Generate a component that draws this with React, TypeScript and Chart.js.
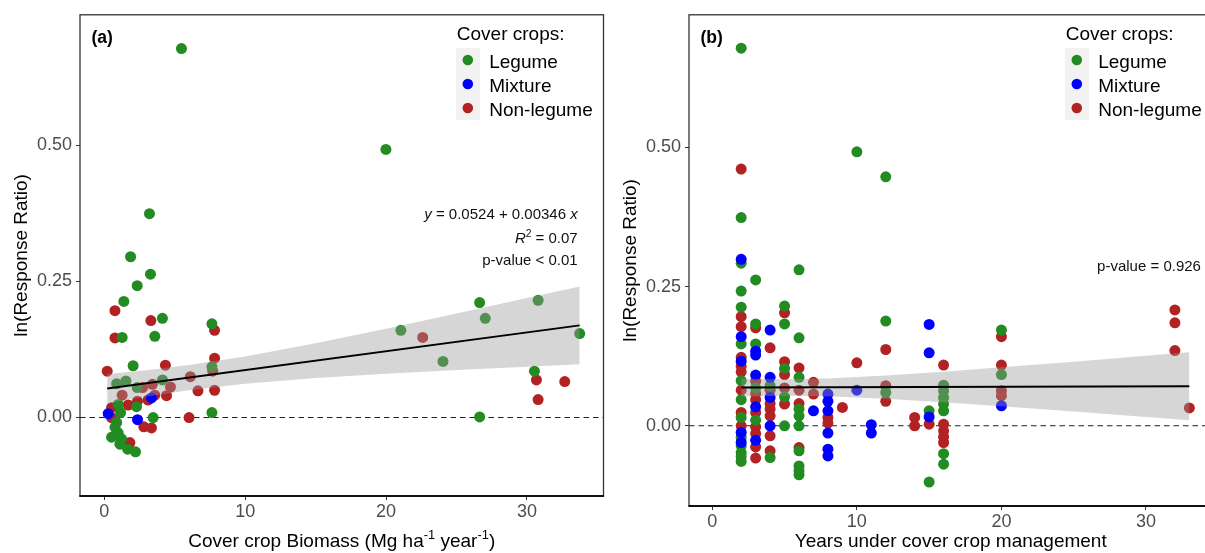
import { useEffect, useRef } from 'react';
import { Chart, registerables } from 'chart.js';

Chart.register(...registerables);

const FONT = "'Liberation Sans', Arial, Helvetica, sans-serif";

// ---------- Panel (a): cover crop biomass ----------
const A_LEGUME_X = [5.48, 3.21, 1.87, 3.28, 2.34, 1.39, 4.13, 1.27, 3.59, 7.64, 2.05, 7.64, 0.88, 1.54, 4.13, 2.34, 2.29, 0.99, 1.16, 3.47, 7.64, 0.88, 0.76, 0.99, 0.52, 1.23, 1.11, 1.66, 2.22, 19.99, 21.05, 24.04, 26.64, 27.04, 26.64, 30.79, 30.53, 33.74];
const A_LEGUME_Y = [0.677, 0.374, 0.295, 0.263, 0.242, 0.213, 0.182, 0.147, 0.149, 0.172, 0.095, 0.093, 0.062, 0.067, 0.069, 0.055, 0.020, 0.024, 0.009, 0.0, 0.009, -0.009, -0.018, -0.028, -0.036, -0.039, -0.049, -0.058, -0.063, 0.492, 0.160, 0.103, 0.211, 0.182, 0.001, 0.215, 0.085, 0.154];
const A_MIXTURE_X = [3.35, 0.28, 2.36];
const A_MIXTURE_Y = [0.036, 0.007, -0.004];
const A_NONLEGUME_X = [0.76, 3.31, 0.76, 7.83, 7.83, 0.21, 4.34, 7.7, 6.11, 2.72, 3.42, 4.7, 4.42, 6.65, 7.83, 1.27, 3.11, 3.59, 2.36, 0.52, 1.7, 0.52, 6.02, 2.81, 3.35, 1.82, 1.7, 22.6, 30.67, 30.79, 32.68];
const A_NONLEGUME_Y = [0.196, 0.178, 0.146, 0.160, 0.109, 0.085, 0.096, 0.085, 0.075, 0.055, 0.061, 0.056, 0.040, 0.049, 0.050, 0.041, 0.032, 0.041, 0.030, 0.018, 0.023, 0.0, 0.0, -0.017, -0.019, -0.046, -0.055, 0.147, 0.069, 0.033, 0.066];
const A_FIT_X = [0.21, 33.74];
const A_FIT_Y = [0.0531, 0.1691];
const A_BAND_X = [0.21, 3, 6, 10, 15, 20, 25, 30, 33.74];
const A_BAND_LOW = [0.026, 0.0387, 0.0502, 0.062, 0.0725, 0.0804, 0.0871, 0.0932, 0.0976];
const A_BAND_HIGH = [0.080, 0.0869, 0.0962, 0.112, 0.1361, 0.1628, 0.1907, 0.2192, 0.2406];

// ---------- Panel (b): years under cover crop ----------
const B_LEGUME_X = [2, 2, 2, 2, 2, 2, 2, 2, 2, 2, 2, 2, 2, 2, 3, 3, 3, 3, 3, 4, 4, 5, 5, 5, 5, 5, 6, 6, 6, 6, 6, 6, 6, 6, 6, 6, 10, 12, 12, 12, 15, 15, 16, 16, 16, 16, 16, 16, 16, 20, 20];
const B_LEGUME_Y = [0.678, 0.374, 0.292, 0.242, 0.213, 0.147, 0.081, 0.047, 0.015, -0.021, -0.036, -0.048, -0.055, -0.064, 0.262, 0.183, 0.147, 0.068, 0.010, 0.072, -0.057, 0.215, 0.183, 0.103, 0.052, 0.0, 0.280, 0.158, 0.087, 0.030, 0.018, 0.0, -0.045, -0.072, -0.081, -0.088, 0.492, 0.447, 0.188, 0.060, 0.027, -0.101, 0.073, 0.063, 0.051, 0.039, 0.027, -0.050, -0.069, 0.172, 0.092];
const B_MIXTURE_X = [2, 2, 2, 2, 2, 3, 3, 3, 3, 3, 4, 4, 4, 4, 7, 8, 8, 8, 8, 8, 8, 10, 11, 11, 15, 15, 15, 20];
const B_MIXTURE_Y = [0.299, 0.160, 0.116, -0.012, -0.030, 0.134, 0.127, 0.091, 0.034, -0.026, 0.172, 0.087, 0.051, 0.0, 0.027, 0.057, 0.044, 0.027, -0.013, -0.042, -0.054, 0.064, 0.002, -0.013, 0.182, 0.131, 0.016, 0.036];
const B_NONLEGUME_X = [2, 2, 2, 2, 2, 2, 2, 2, 2, 3, 3, 3, 3, 3, 3, 3, 3, 3, 4, 4, 4, 4, 4, 4, 4, 5, 5, 5, 5, 5, 6, 6, 6, 6, 7, 7, 8, 8, 9, 10, 12, 12, 12, 14, 14, 15, 16, 16, 16, 16, 16, 20, 20, 20, 20, 32, 32, 32, 33];
const B_NONLEGUME_Y = [0.461, 0.196, 0.178, 0.123, 0.107, 0.097, 0.064, 0.024, 0.0, 0.176, 0.080, 0.058, 0.047, 0.024, -0.002, -0.014, -0.038, -0.058, 0.140, 0.064, 0.040, 0.030, 0.018, -0.018, -0.045, 0.203, 0.115, 0.092, 0.068, 0.039, 0.104, 0.064, 0.040, -0.039, 0.078, 0.057, 0.015, 0.005, 0.033, 0.113, 0.137, 0.072, 0.044, 0.015, 0.0, 0.003, 0.109, 0.003, -0.009, -0.020, -0.030, 0.160, 0.109, 0.063, 0.054, 0.208, 0.185, 0.135, 0.032];
const B_FIT_X = [2, 33];
const B_FIT_Y = [0.0686, 0.0710];
const B_BAND_X = [2, 5, 8, 12, 16, 20, 25, 30, 33];
const B_BAND_LOW = [0.0526, 0.0541, 0.0531, 0.0485, 0.0422, 0.035, 0.0256, 0.0159, 0.010];
const B_BAND_HIGH = [0.0846, 0.0835, 0.0851, 0.0903, 0.0972, 0.105, 0.1152, 0.1257, 0.132];

// ---------- shared labels / ticks ----------
const X_TICKS = [0, 10, 20, 30];
const Y_TICKS = [0, 0.25, 0.5];
const LEGEND_TITLE = 'Cover crops:';
const GROUPS = ['Legume', 'Mixture', 'Non-legume'];
const Y_TITLE = 'ln(Response Ratio)';
const A_X_TITLE = ['Cover crop Biomass (Mg ha', '-1', ' year', '-1', ')'];
const B_X_TITLE = 'Years under cover crop management';
const A_NOTE_POS_X = 33.6;
const A_NOTE_POS_Y = [0.364, 0.3195, 0.279];
const B_NOTE_POS_X = 33.8;
const B_NOTE_POS_Y = [0.278];

const COLORS = ['#228B22', '#0000FF', '#B22222'];

type Part = { t: string; italic?: boolean; sup?: boolean };

function pts(xs: number[], ys: number[]) {
  return xs.map((x, i) => ({ x, y: ys[i] }));
}

function partFont(p: Part, size: number) {
  const s = p.sup ? size * 0.68 : size;
  return `${p.italic ? 'italic ' : ''}${s}px ${FONT}`;
}

function drawParts(ctx: CanvasRenderingContext2D, parts: Part[], x: number, y: number, size: number, align: 'left' | 'right' | 'center') {
  let w = 0;
  for (const p of parts) {
    ctx.font = partFont(p, size);
    w += ctx.measureText(p.t).width;
  }
  let cx = align === 'right' ? x - w : align === 'center' ? x - w / 2 : x;
  ctx.textAlign = 'left';
  ctx.textBaseline = 'alphabetic';
  for (const p of parts) {
    ctx.font = partFont(p, size);
    ctx.fillText(p.t, cx, p.sup ? y - size * 0.42 : y);
    cx += ctx.measureText(p.t).width;
  }
}

function buildConfig(p: any) {
  const datasets: any[] = [
    { type: 'line', data: pts(p.fitX, p.fitY), borderColor: '#000', borderWidth: 2, pointRadius: 0, fill: false, order: 1 },
    { type: 'line', data: pts(p.bandX, p.bandHigh), borderColor: 'rgba(0,0,0,0)', borderWidth: 0, pointRadius: 0, backgroundColor: 'rgba(153,153,153,0.4)', fill: '+1', order: 3 },
    { type: 'line', data: pts(p.bandX, p.bandLow), borderColor: 'rgba(0,0,0,0)', borderWidth: 0, pointRadius: 0, fill: false, order: 4 },
  ];
  const groupOrder = [8, 7, 9];
  p.series.forEach((s: any, i: number) => {
    datasets.push({
      type: 'scatter',
      label: GROUPS[i],
      data: pts(s[0], s[1]),
      backgroundColor: COLORS[i],
      borderWidth: 0,
      pointRadius: 5.5,
      pointHoverRadius: 5.5,
      order: groupOrder[i],
    });
  });

  const decor = {
    id: 'decor',
    beforeDatasetsDraw(chart: any) {
      const { ctx, chartArea: a, scales } = chart;
      const y0 = scales.y.getPixelForValue(0);
      ctx.save();
      ctx.strokeStyle = '#222';
      ctx.lineWidth = 1.1;
      ctx.setLineDash([5.5, 4]);
      ctx.beginPath();
      ctx.moveTo(a.left, y0);
      ctx.lineTo(a.right, y0);
      ctx.stroke();
      ctx.restore();
    },
    afterDraw(chart: any) {
      const { ctx, chartArea: a, scales } = chart;
      ctx.save();
      // panel border
      ctx.strokeStyle = '#333';
      ctx.lineWidth = 1.3;
      ctx.strokeRect(a.left, a.top, a.right - a.left, a.bottom - a.top);
      ctx.strokeStyle = '#111';
      ctx.lineWidth = 2;
      ctx.beginPath();
      ctx.moveTo(a.left - 0.6, a.bottom);
      ctx.lineTo(a.right + 0.6, a.bottom);
      ctx.stroke();

      // panel label
      ctx.fillStyle = '#000';
      ctx.font = `bold 17.5px ${FONT}`;
      ctx.textAlign = 'left';
      ctx.textBaseline = 'alphabetic';
      ctx.fillText(p.label, a.left + 11.5, a.top + 28);

      // legend
      const R = a.right;
      ctx.font = `19px ${FONT}`;
      ctx.fillStyle = '#000';
      ctx.fillText(LEGEND_TITLE, R - 146.7, 39.5);
      ctx.fillStyle = '#F2F2F2';
      ctx.fillRect(R - 147.5, 48, 24, 72);
      GROUPS.forEach((g, i) => {
        const cy = 60 + i * 24;
        ctx.fillStyle = COLORS[i];
        ctx.beginPath();
        ctx.arc(R - 135.7, cy, 5.3, 0, Math.PI * 2);
        ctx.fill();
        ctx.fillStyle = '#000';
        ctx.font = `19px ${FONT}`;
        ctx.fillText(g, R - 114.3, cy + 7.8);
      });

      // annotations
      ctx.fillStyle = '#111';
      const nx = scales.x.getPixelForValue(p.noteX);
      p.notes.forEach((parts: Part[], i: number) => {
        drawParts(ctx, parts, nx, scales.y.getPixelForValue(p.noteY[i]), 15, 'right');
      });

      // custom x title with superscripts
      if (p.xTitleParts) {
        ctx.fillStyle = '#000';
        drawParts(ctx, p.xTitleParts, (a.left + a.right) / 2, 547, 19, 'center');
      }
      ctx.restore();
    },
  };

  return {
    type: 'scatter',
    data: { datasets },
    options: {
      animation: false,
      responsive: false,
      maintainAspectRatio: false,
      devicePixelRatio: 1,
      events: [],
      layout: { padding: { top: 12, right: p.padRight, left: 0, bottom: 0 } },
      plugins: { legend: { display: false }, tooltip: { enabled: false } },
      scales: {
        x: {
          type: 'linear',
          min: p.xMin,
          max: p.xMax,
          afterBuildTicks: (s: any) => { s.ticks = X_TICKS.map((v) => ({ value: v })); },
          afterFit: (s: any) => { s.height = p.xAxisHeight; },
          grid: { display: true, drawOnChartArea: false, drawTicks: true, tickLength: 4, tickColor: '#333', tickWidth: 1 },
          border: { display: false },
          ticks: { color: '#4D4D4D', font: { family: FONT, size: 18 }, padding: 1, maxRotation: 0, autoSkip: false, callback: (v: any) => String(v) },
          title: p.xTitleText
            ? { display: true, text: p.xTitleText, color: '#000', font: { family: FONT, size: 19 }, padding: { top: 0, bottom: 0 } }
            : { display: false },
        },
        y: {
          type: 'linear',
          min: p.yMin,
          max: p.yMax,
          afterBuildTicks: (s: any) => { s.ticks = Y_TICKS.map((v) => ({ value: v })); },
          afterFit: (s: any) => { s.width = 80; },
          grid: { display: true, drawOnChartArea: false, drawTicks: true, tickLength: 4, tickColor: '#333', tickWidth: 1 },
          border: { display: false },
          ticks: { color: '#4D4D4D', font: { family: FONT, size: 18 }, padding: 4, autoSkip: false, callback: (v: any) => Number(v).toFixed(2) },
          title: { display: true, text: Y_TITLE, color: '#000', font: { family: FONT, size: 19 }, padding: { top: 10.5, bottom: 0 } },
        },
      },
    },
    plugins: [decor],
  } as any;
}

const PANEL_A = {
  label: '(a)',
  xMin: -1.72, xMax: 35.43, yMin: -0.144, yMax: 0.739,
  xAxisHeight: 57, padRight: 4,
  series: [[A_LEGUME_X, A_LEGUME_Y], [A_MIXTURE_X, A_MIXTURE_Y], [A_NONLEGUME_X, A_NONLEGUME_Y]],
  fitX: A_FIT_X, fitY: A_FIT_Y,
  bandX: A_BAND_X, bandLow: A_BAND_LOW, bandHigh: A_BAND_HIGH,
  xTitleText: null,
  xTitleParts: [
    { t: A_X_TITLE[0] }, { t: A_X_TITLE[1], sup: true }, { t: A_X_TITLE[2] }, { t: A_X_TITLE[3], sup: true }, { t: A_X_TITLE[4] },
  ],
  noteX: A_NOTE_POS_X,
  noteY: A_NOTE_POS_Y,
  notes: [
    [{ t: 'y', italic: true }, { t: ' = 0.0524 + 0.00346 ' }, { t: 'x', italic: true }],
    [{ t: 'R', italic: true }, { t: '2', sup: true }, { t: ' = 0.07' }],
    [{ t: 'p-value < 0.01' }],
  ],
};

const PANEL_B = {
  label: '(b)',
  xMin: -1.61, xMax: 34.6, yMin: -0.144, yMax: 0.738,
  xAxisHeight: 47, padRight: 16.5,
  series: [[B_LEGUME_X, B_LEGUME_Y], [B_MIXTURE_X, B_MIXTURE_Y], [B_NONLEGUME_X, B_NONLEGUME_Y]],
  fitX: B_FIT_X, fitY: B_FIT_Y,
  bandX: B_BAND_X, bandLow: B_BAND_LOW, bandHigh: B_BAND_HIGH,
  xTitleText: B_X_TITLE,
  xTitleParts: null,
  noteX: B_NOTE_POS_X,
  noteY: B_NOTE_POS_Y,
  notes: [[{ t: 'p-value = 0.926' }]],
};

export default function App() {
  const refA = useRef<HTMLCanvasElement>(null);
  const refB = useRef<HTMLCanvasElement>(null);
  useEffect(() => {
    const ca = new Chart(refA.current as HTMLCanvasElement, buildConfig(PANEL_A));
    const cb = new Chart(refB.current as HTMLCanvasElement, buildConfig(PANEL_B));
    return () => {
      ca.destroy();
      cb.destroy();
    };
  }, []);
  return (
    <div style={{ position: 'absolute', left: 0, top: 0, width: 1205, height: 553, overflow: 'hidden', background: '#fff' }}>
      <canvas ref={refA} width={609} height={553} style={{ position: 'absolute', left: 0, top: 0 }} />
      <canvas ref={refB} width={620} height={553} style={{ position: 'absolute', left: 609, top: 0 }} />
    </div>
  );
}
